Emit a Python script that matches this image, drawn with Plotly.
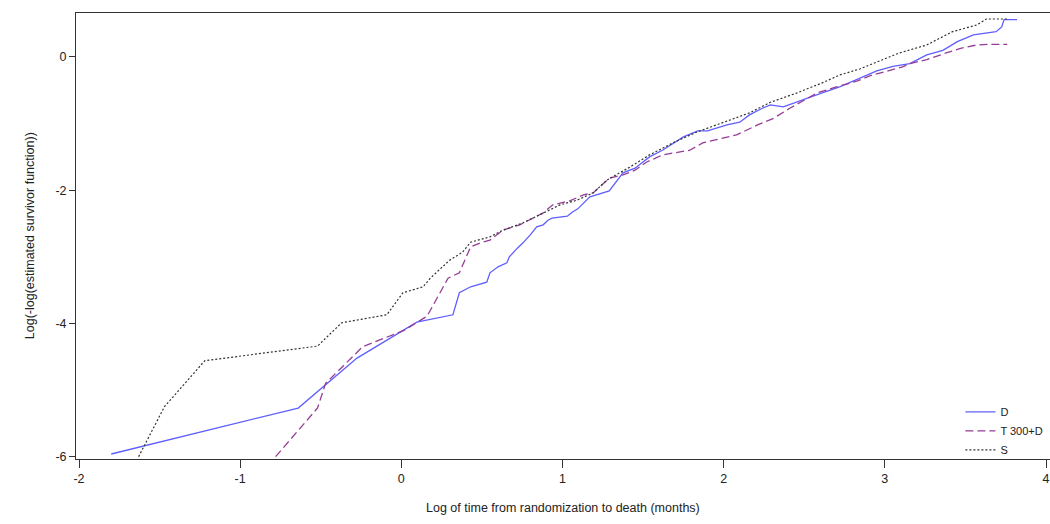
import plotly.graph_objects as go

# ---- data ----
d_x = [-1.80, -0.64, -0.275, 0.02, 0.096, 0.32, 0.36, 0.43, 0.53, 0.55, 0.60, 0.655, 0.67, 0.72,
       0.755, 0.80, 0.84, 0.88, 0.91, 0.935, 1.03, 1.06, 1.095, 1.17, 1.23, 1.29, 1.375, 1.45,
       1.54, 1.62, 1.75, 1.84, 1.90, 2.02, 2.10, 2.16, 2.24, 2.29, 2.37, 2.45, 2.53, 2.62, 2.72,
       2.845, 2.95, 3.05, 3.155, 3.26, 3.36, 3.45, 3.55, 3.69, 3.725, 3.74, 3.82]
d_y = [-5.96, -5.27, -4.52, -4.10, -3.98, -3.87, -3.54, -3.45, -3.38, -3.24, -3.15, -3.09, -3.00, -2.87,
       -2.79, -2.67, -2.55, -2.52, -2.45, -2.42, -2.39, -2.33, -2.28, -2.10, -2.06, -2.01, -1.74, -1.67,
       -1.50, -1.40, -1.20, -1.11, -1.11, -1.02, -0.98, -0.87, -0.77, -0.72, -0.75, -0.68, -0.60, -0.53, -0.45,
       -0.32, -0.21, -0.14, -0.10, 0.03, 0.10, 0.23, 0.33, 0.38, 0.45, 0.56, 0.56]

t_x = [-0.78, -0.52, -0.47, -0.24, 0.02, 0.10, 0.16, 0.29, 0.36, 0.43, 0.49, 0.55, 0.63, 0.735,
       0.88, 0.94, 1.045, 1.13, 1.19, 1.29, 1.375, 1.45, 1.52, 1.62, 1.73, 1.79, 1.87, 2.00, 2.08,
       2.21, 2.31, 2.41, 2.58, 2.70, 2.83, 2.91, 3.01, 3.11, 3.155, 3.26, 3.38, 3.47, 3.57, 3.65, 3.76]
t_y = [-6.00, -5.27, -4.90, -4.35, -4.10, -3.98, -3.89, -3.32, -3.24, -2.85, -2.79, -2.75, -2.60, -2.52,
       -2.34, -2.22, -2.16, -2.07, -2.04, -1.82, -1.77, -1.70, -1.58, -1.47, -1.43, -1.40, -1.29, -1.22, -1.17,
       -1.02, -0.92, -0.77, -0.54, -0.45, -0.36, -0.28, -0.21, -0.15, -0.10, -0.04, 0.06, 0.13, 0.18, 0.19, 0.19]

s_x = [-1.63, -1.47, -1.22, -0.52, -0.37, -0.09, 0.01, 0.135, 0.18, 0.30, 0.38, 0.43, 0.55, 0.63,
       0.755, 0.88, 0.985, 1.09, 1.19, 1.275, 1.42, 1.54, 1.685, 1.83, 1.995, 2.16, 2.29, 2.455,
       2.62, 2.72, 2.845, 2.97, 3.09, 3.26, 3.42, 3.57, 3.63, 3.76]
s_y = [-6.00, -5.25, -4.56, -4.34, -3.99, -3.87, -3.54, -3.45, -3.32, -3.05, -2.93, -2.78, -2.70, -2.60,
       -2.49, -2.34, -2.22, -2.15, -2.04, -1.85, -1.65, -1.47, -1.29, -1.13, -0.98, -0.84, -0.68, -0.54,
       -0.38, -0.27, -0.18, -0.06, 0.06, 0.18, 0.38, 0.48, 0.57, 0.57]

x_ticks = [-2, -1, 0, 1, 2, 3, 4]
x_tick_labels = ["-2", "-1", "0", "1", "2", "3", "4"]
y_ticks = [0, -2, -4, -6]
y_tick_labels = ["0", "-2", "-4", "-6"]
x_title = "Log of time from randomization to death (months)"
y_title = "Log(-log(estimated survivor function))"

fig = go.Figure()
fig.add_trace(go.Scatter(x=d_x, y=d_y, mode="lines", name="D",
                         line=dict(color="rgb(95,95,255)", width=1.3)))
fig.add_trace(go.Scatter(x=t_x, y=t_y, mode="lines", name="T 300+D",
                         line=dict(color="rgb(150,60,150)", width=1.3, dash="8px,4px")))
fig.add_trace(go.Scatter(x=s_x, y=s_y, mode="lines", name="S",
                         line=dict(color="rgb(50,50,50)", width=1.2, dash="2px,2px")))

fnt = "Liberation Sans, Arial, sans-serif"
fig.update_layout(
    width=1050, height=524,
    margin=dict(l=76, r=0, t=13, b=65),
    plot_bgcolor="white", paper_bgcolor="white",
    font=dict(family=fnt, size=12, color="#222"),
    showlegend=True,
    legend=dict(x=0.908, y=0.138, xanchor="left", yanchor="top",
                bgcolor="rgba(0,0,0,0)", font=dict(size=11, family=fnt),
                tracegroupgap=0, itemwidth=30),
    xaxis=dict(range=[-2.0186, 4.0248], tickvals=x_ticks, ticktext=x_tick_labels,
               ticks="outside", ticklen=8, automargin=False,
               tickcolor="#333", showline=True, linecolor="#333", linewidth=1,
               mirror=True, showgrid=False, zeroline=False,
               tickfont=dict(size=12.5, family=fnt)),
    yaxis=dict(range=[-6.035, 0.66], tickvals=y_ticks, ticktext=y_tick_labels,
               ticks="outside", ticklen=6, automargin=False,
               tickcolor="#333", showline=True, linecolor="#333", linewidth=1,
               showgrid=False, zeroline=False, tickfont=dict(size=12.5, family=fnt)),
    annotations=[
        dict(text=x_title, xref="paper", yref="paper", x=0.5, y=-0.11,
             xanchor="center", yanchor="middle", showarrow=False,
             font=dict(size=12.5, family=fnt)),
        dict(text=y_title, xref="paper", yref="paper", x=-0.047, y=0.5, textangle=-90,
             xanchor="center", yanchor="middle", showarrow=False,
             font=dict(size=12.5, family=fnt)),
    ],
)

fig.write_html("out.html", config={"displayModeBar": False},
               post_script="document.body.style.margin='0';document.body.style.overflow='hidden';")
